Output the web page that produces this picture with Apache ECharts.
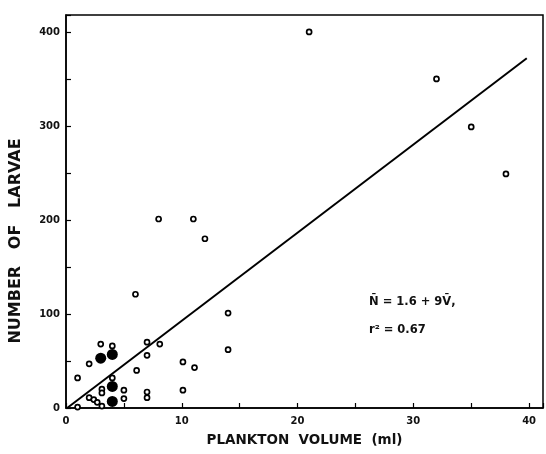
<!DOCTYPE html>
<html>
<head>
<meta charset="utf-8">
<script src="https://cdn.jsdelivr.net/npm/echarts@6/dist/echarts.min.js"></script>
<style>
  html, body { margin: 0; padding: 0; background: #fff; }
  #chart { width: 546px; height: 454px; }
</style>
</head>
<body>
<div id="chart"></div>
<script>
// open circles: plankton volume (ml) / number of larvae
const openVolume = [21, 32, 35, 38, 8, 11, 12, 6, 14, 14, 10.1, 11.1, 10.1, 3, 4, 2, 1, 7, 8.1, 7, 6.1, 4, 3.1, 3.1, 5, 5, 7, 7, 2, 2.4, 2.7, 3.1, 1];
const openLarvae = [400, 350, 299, 249, 201, 201, 180, 121, 101, 62, 49, 43, 19, 68, 66, 47, 32, 70, 68, 56, 40, 32, 20, 16, 19, 10, 17, 11, 11, 9, 6, 2, 1];
// filled circles
const filledVolume = [3, 4, 4, 4];
const filledLarvae = [53, 57, 23, 7];
// regression line as drawn
const fitVolume = [0.1, 39.8];
const fitLarvae = [0, 372];

const xTickLabels = [0, 10, 20, 30, 40];
const yTickLabels = [0, 100, 200, 300, 400];

const zip = (a, b) => a.map((v, i) => [v, b[i]]);

const chart = echarts.init(document.getElementById('chart'));
chart.setOption({
  animation: false,
  grid: {
    left: 66, right: 1, top: 15, bottom: 46,
    show: true, borderColor: '#000', borderWidth: 1.5
  },
  xAxis: {
    type: 'value',
    min: 0, max: 41.2, interval: 5,
    name: 'PLANKTON  VOLUME  (ml)',
    nameLocation: 'middle',
    nameGap: 25,
    nameTextStyle: { fontFamily: 'DejaVu Sans', fontSize: 13.5, fontWeight: 'bold', color: '#111' },
    axisLine: { lineStyle: { color: '#000', width: 1.5 } },
    axisTick: { inside: true, length: 5, lineStyle: { color: '#000', width: 1.2 } },
    axisLabel: {
      fontFamily: 'DejaVu Sans', fontSize: 10, fontWeight: 'bold', color: '#111', margin: 8,
      formatter: v => xTickLabels.includes(v) ? String(v) : ''
    },
    splitLine: { show: false }
  },
  yAxis: {
    type: 'value',
    min: 0, max: 418, interval: 50,
    axisLine: { lineStyle: { color: '#000', width: 1.5 } },
    axisTick: { inside: true, length: 5, lineStyle: { color: '#000', width: 1.2 } },
    axisLabel: {
      fontFamily: 'DejaVu Sans', fontSize: 10, fontWeight: 'bold', color: '#111', margin: 6,
      formatter: v => yTickLabels.includes(v) ? String(v) : ''
    },
    splitLine: { show: false }
  },
  graphic: [
    {
      type: 'text', x: 16, y: 241, rotation: Math.PI / 2,
      style: {
        text: 'NUMBER   OF   LARVAE', fill: '#111',
        font: 'bold 16px "DejaVu Sans"', align: 'center', verticalAlign: 'middle'
      }
    },
    {
      type: 'text', x: 369, y: 302,
      style: {
        text: 'N\u0304 = 1.6 + 9V\u0304,', fill: '#111',
        font: 'bold 11.5px "DejaVu Sans"', align: 'left', verticalAlign: 'middle'
      }
    },
    {
      type: 'text', x: 369, y: 330,
      style: {
        text: 'r\u00b2 = 0.67', fill: '#111',
        font: 'bold 11.5px "DejaVu Sans"', align: 'left', verticalAlign: 'middle'
      }
    }
  ],
  series: [
    {
      type: 'line',
      data: zip(fitVolume, fitLarvae),
      symbol: 'none',
      lineStyle: { color: '#000', width: 2 },
      z: 2
    },
    {
      type: 'scatter',
      data: zip(openVolume, openLarvae),
      symbol: 'circle',
      symbolSize: 5,
      itemStyle: { color: '#fff', borderColor: '#000', borderWidth: 1.7, opacity: 1 },
      z: 3
    },
    {
      type: 'scatter',
      data: zip(filledVolume, filledLarvae),
      symbol: 'circle',
      symbolSize: 11,
      itemStyle: { color: '#000', opacity: 1 },
      z: 4
    }
  ]
});
</script>
</body>
</html>
